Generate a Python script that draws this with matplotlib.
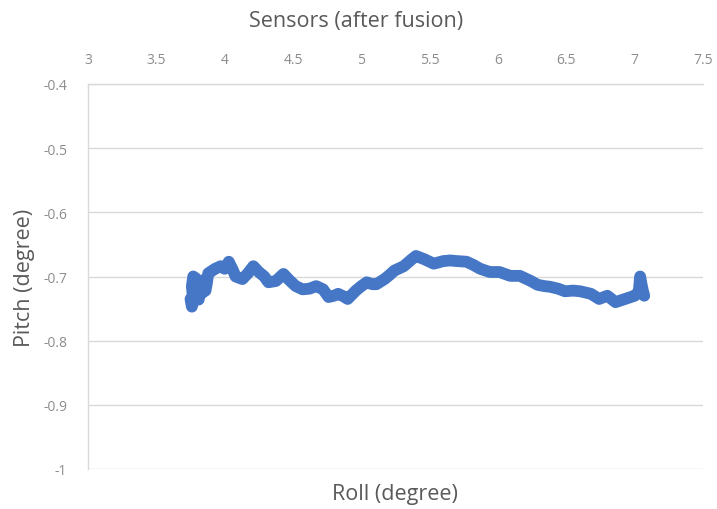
import matplotlib
matplotlib.use("Agg")
import matplotlib.pyplot as plt

# Roll / pitch trace from the fused sensor output (degrees)
roll = [3.75, 3.76, 3.77, 3.76, 3.77, 3.79, 3.80, 3.79, 3.81, 3.82, 3.81, 3.84,
        3.85, 3.83, 3.86, 3.87, 3.88, 3.93, 3.97, 4.00, 4.03, 4.06, 4.08, 4.13,
        4.17, 4.21, 4.25, 4.29, 4.32, 4.375, 4.43, 4.47, 4.52, 4.57, 4.62, 4.67,
        4.72, 4.76, 4.80, 4.83, 4.87, 4.90, 4.96, 5.00, 5.04, 5.08, 5.11, 5.17,
        5.21, 5.24, 5.28, 5.31, 5.37, 5.40, 5.46, 5.53, 5.60, 5.65, 5.70, 5.77,
        5.82, 5.87, 5.94, 6.01, 6.09, 6.16, 6.24, 6.29, 6.34, 6.38, 6.44, 6.49,
        6.55, 6.60, 6.68, 6.74, 6.80, 6.86, 6.93, 7.00, 7.03, 7.04, 7.05, 7.06,
        7.07]
pitch = [-0.735, -0.747, -0.738, -0.715, -0.700, -0.703, -0.712, -0.725, -0.736, -0.718, -0.728, -0.725,
         -0.705, -0.715, -0.722, -0.710, -0.695, -0.688, -0.684, -0.688, -0.677, -0.690, -0.700, -0.704,
         -0.695, -0.684, -0.693, -0.700, -0.709, -0.707, -0.696, -0.705, -0.715, -0.720, -0.719, -0.715,
         -0.720, -0.732, -0.730, -0.727, -0.731, -0.735, -0.722, -0.715, -0.709, -0.712, -0.712, -0.704,
         -0.697, -0.691, -0.687, -0.684, -0.673, -0.668, -0.673, -0.680, -0.676, -0.675, -0.676, -0.677,
         -0.682, -0.688, -0.693, -0.693, -0.699, -0.699, -0.707, -0.713, -0.715, -0.716, -0.719, -0.723,
         -0.722, -0.723, -0.727, -0.735, -0.730, -0.740, -0.735, -0.730, -0.724, -0.700, -0.712, -0.722,
         -0.730]

x_ticks = [3, 3.5, 4, 4.5, 5, 5.5, 6, 6.5, 7, 7.5]
y_ticks = [-0.4, -0.5, -0.6, -0.7, -0.8, -0.9, -1.0]
x_tick_labels = ["3", "3.5", "4", "4.5", "5", "5.5", "6", "6.5", "7", "7.5"]
y_tick_labels = ["-0.4", "-0.5", "-0.6", "-0.7", "-0.8", "-0.9", "-1"]

plt.rcParams['font.family'] = ['Open Sans', 'DejaVu Sans']

fig = plt.figure(figsize=(7.17, 5.10), dpi=100)
ax = fig.add_axes([88 / 717, 40 / 510, 615 / 717, 385 / 510])

grid_c = '#d9d9d9'
ax.plot(roll, pitch, color='#4677C6', lw=8.5, solid_capstyle='round',
        solid_joinstyle='round', zorder=3)

ax.set_xlim(3, 7.5)
ax.set_ylim(-1.0, -0.4)
ax.set_xticks(x_ticks)
ax.set_xticklabels(x_tick_labels)
ax.set_yticks(y_ticks)
ax.set_yticklabels(y_tick_labels)
ax.xaxis.tick_top()
ax.tick_params(axis='x', length=0, pad=12, labelsize=10, labelcolor='#8c8c8c')
ax.tick_params(axis='y', length=0, pad=15, labelsize=10, labelcolor='#8c8c8c')

for yv in y_ticks:
    ax.axhline(yv, color=grid_c, lw=1, zorder=1)

for side in ['right', 'bottom']:
    ax.spines[side].set_visible(False)
ax.spines['top'].set_color(grid_c)
ax.spines['left'].set_color(grid_c)
ax.spines['top'].set_linewidth(1)
ax.spines['left'].set_linewidth(1)

ax.set_ylabel('Pitch (degree)', fontsize=15.5, color='#595959', labelpad=6)
fig.text(395 / 717, 1 - 495 / 510, 'Roll (degree)', fontsize=15.5, color='#595959',
         ha='center', va='center')
fig.text(356 / 717, 1 - 22 / 510, 'Sensors (after fusion)', fontsize=15.5,
         color='#595959', ha='center', va='center')

fig.savefig('out.png', dpi=100)
